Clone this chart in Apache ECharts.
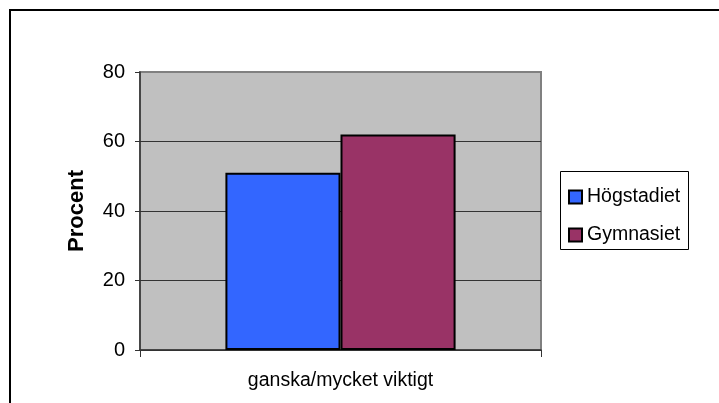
<!DOCTYPE html>
<html>
<head>
<meta charset="utf-8">
<script src="https://cdn.jsdelivr.net/npm/echarts@6/dist/echarts.min.js"></script>
<style>
html,body{margin:0;padding:0;background:#fff;}
#chart{width:719px;height:403px;}
</style>
</head>
<body>
<div id="chart"></div>
<script>
const categories = ['ganska/mycket viktigt'];
const seriesNames = ['Högstadiet', 'Gymnasiet'];
const hogstadiet = [51];
const gymnasiet = [62];
const yTicks = { min: 0, max: 80, interval: 20 };
const yAxisName = 'Procent';

const FONT = '"Liberation Sans", Arial, sans-serif';
const chart = echarts.init(document.getElementById('chart'), null, { renderer: 'canvas' });

chart.setOption({
  animation: false,
  backgroundColor: '#ffffff',
  textStyle: { fontFamily: FONT },
  grid: {
    left: 140, top: 72, right: 178, bottom: 53,
    show: true, backgroundColor: '#C0C0C0', borderColor: '#808080', borderWidth: 2
  },
  legend: {
    orient: 'vertical',
    left: 563, top: 182,
    itemWidth: 13, itemHeight: 13,
    itemGap: 18,
    icon: 'rect',
    textStyle: { fontFamily: FONT, fontSize: 19.5, color: '#000', lineHeight: 20 },
    data: seriesNames
  },
  xAxis: {
    type: 'category',
    data: categories,
    axisLine: { lineStyle: { color: '#333', width: 1.5 } },
    axisTick: { show: true, length: 7, lineStyle: { color: '#333' } },
    axisLabel: { fontFamily: FONT, fontSize: 19.5, color: '#000', margin: 21 }
  },
  yAxis: {
    type: 'value',
    min: yTicks.min, max: yTicks.max, interval: yTicks.interval,
    name: yAxisName,
    nameLocation: 'middle',
    nameGap: 52,
    nameTextStyle: { fontFamily: FONT, fontSize: 22, fontWeight: 'bold', color: '#000' },
    axisLine: { show: true, lineStyle: { color: '#333', width: 1.5 } },
    axisTick: { show: true, length: 5, lineStyle: { color: '#333' } },
    axisLabel: { fontFamily: FONT, fontSize: 20, color: '#000', margin: 15 },
    splitLine: { show: true, lineStyle: { color: ['#333', '#333', '#333', '#333', '#808080'], width: 1 } }
  },
  series: [
    {
      name: seriesNames[0], type: 'bar', data: hogstadiet,
      barWidth: '28.7%', barGap: '0%',
      itemStyle: { color: '#3366FF', borderColor: '#000', borderWidth: 2 }
    },
    {
      name: seriesNames[1], type: 'bar', data: gymnasiet,
      barWidth: '28.7%', barGap: '0%',
      itemStyle: { color: '#993366', borderColor: '#000', borderWidth: 2 }
    }
  ],
  graphic: [
    {
      type: 'polyline',
      shape: { points: [[10, 403], [10, 10], [719, 10]] },
      style: { stroke: '#000', lineWidth: 2, fill: null }
    },
    {
      type: 'rect',
      shape: { x: 560.5, y: 171.5, width: 128, height: 78 },
      style: { stroke: '#000', lineWidth: 1, fill: null }
    }
  ]
});
</script>
</body>
</html>
